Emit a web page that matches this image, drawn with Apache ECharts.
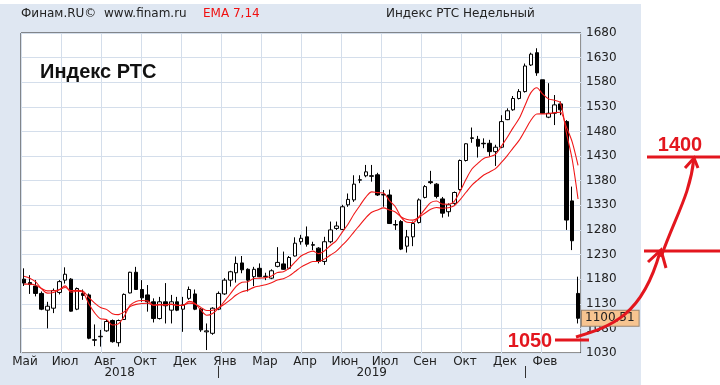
<!DOCTYPE html>
<html><head><meta charset="utf-8">
<script src="https://cdn.jsdelivr.net/npm/echarts@6/dist/echarts.min.js"></script>
<style>html,body{margin:0;padding:0;background:#fff}#c{width:720px;height:385px}</style>
</head><body><div id="c"></div>
<script>
const weeks = [
'2018-05-21','2018-05-28','2018-06-04','2018-06-11','2018-06-18','2018-06-25','2018-07-02','2018-07-09','2018-07-16','2018-07-23',
'2018-07-30','2018-08-06','2018-08-13','2018-08-20','2018-08-27','2018-09-03','2018-09-10','2018-09-17','2018-09-24','2018-10-01',
'2018-10-08','2018-10-15','2018-10-22','2018-10-29','2018-11-05','2018-11-12','2018-11-19','2018-11-26','2018-12-03','2018-12-10',
'2018-12-17','2018-12-24','2018-12-31',
'2019-01-07','2019-01-14','2019-01-21','2019-01-28','2019-02-04','2019-02-11','2019-02-18','2019-02-25','2019-03-04','2019-03-11',
'2019-03-18','2019-03-25','2019-04-01','2019-04-08','2019-04-15','2019-04-22','2019-04-29','2019-05-06','2019-05-13','2019-05-20',
'2019-05-27','2019-06-03','2019-06-10','2019-06-17','2019-06-24','2019-07-01','2019-07-08','2019-07-15','2019-07-22','2019-07-29',
'2019-08-05','2019-08-12','2019-08-19','2019-08-26','2019-09-02','2019-09-09','2019-09-16','2019-09-23','2019-09-30','2019-10-07',
'2019-10-14','2019-10-21','2019-10-28','2019-11-04','2019-11-11','2019-11-18','2019-11-25','2019-12-02','2019-12-09','2019-12-16',
'2019-12-23','2019-12-30',
'2020-01-06','2020-01-13','2020-01-20','2020-01-27','2020-02-03','2020-02-10','2020-02-17','2020-02-24','2020-03-02','2020-03-09'
];
const opens = [
1180,1173,1166,1151,1117,1121,1153,1178,1180,1119,1151,1148,1057,1063,1075,1096,1051,1098,1152,1194,
1159,1148,1134,1100,1134,1117,1134,1119,1141,1150,1119,1073,1070,1119,1150,1178,1193,1213,1200,1185,
1202,1185,1182,1206,1211,1202,1227,1256,1266,1250,1243,1216,1256,1283,1281,1331,1341,1381,1390,1390,
1392,1351,1351,1291,1297,1247,1266,1295,1346,1378,1373,1343,1317,1334,1362,1421,1467,1464,1456,1456,
1439,1448,1504,1524,1547,1561,1615,1640,1585,1509,1517,1536,1500,1339,1151
];
const closes = [
1172,1169,1151,1119,1125,1157,1175,1190,1115,1161,1147,1060,1056,1064,1094,1053,1096,1149,1194,1159,
1142,1134,1100,1134,1126,1134,1117,1128,1159,1119,1077,1075,1121,1151,1178,1195,1212,1199,1178,1200,
1185,1186,1197,1214,1200,1224,1253,1263,1251,1249,1216,1256,1280,1288,1327,1342,1373,1382,1398,1389,
1351,1352,1293,1290,1241,1266,1293,1341,1368,1376,1348,1314,1331,1356,1421,1455,1466,1450,1455,1439,
1448,1500,1522,1547,1561,1613,1637,1599,1517,1517,1534,1524,1300,1258,1100.51
];
const lows = [
1166,1150,1145,1117,1080,1111,1149,1171,1114,1117,1138,1058,1044,1043,1073,1051,1043,1097,1151,1158,
1134,1114,1092,1098,1090,1090,1115,1073,1138,1117,1073,1036,1067,1117,1148,1165,1173,1192,1155,1166,
1184,1178,1180,1204,1199,1200,1226,1250,1246,1239,1212,1209,1253,1280,1280,1327,1337,1375,1387,1378,
1349,1327,1292,1280,1239,1234,1247,1293,1344,1373,1344,1305,1307,1331,1360,1419,1457,1427,1446,1429,
1410,1446,1503,1522,1545,1559,1613,1593,1516,1507,1493,1513,1280,1239,1090
];
const highs = [
1202,1188,1178,1155,1134,1161,1178,1204,1182,1163,1159,1151,1088,1077,1097,1098,1098,1151,1195,1205,
1178,1168,1141,1144,1172,1148,1144,1144,1165,1159,1121,1090,1123,1155,1182,1197,1226,1227,1202,1205,
1212,1193,1200,1245,1236,1227,1265,1270,1287,1256,1245,1266,1297,1297,1331,1354,1391,1391,1412,1412,
1396,1361,1362,1300,1300,1280,1297,1344,1371,1400,1375,1347,1334,1358,1423,1456,1488,1471,1466,1463,
1453,1513,1527,1552,1566,1618,1640,1649,1585,1578,1554,1541,1503,1368,1185
];
const ema7 = [
1186,1182,1174.3,1160.4,1151.6,1152.9,1158.4,1166.3,1153.5,1155.4,
1153.3,1130,1111.5,1099.6,1098.2,1086.9,1089.2,1104.1,1126.6,1134.7,
1136.5,1135.9,1126.9,1128.7,1128,1129.5,1126.4,1126.8,1134.9,1130.9,
1117.4,1106.8,1110.4,1120.5,1134.9,1149.9,1165.4,1173.8,1174.9,1181.2,
1182.1,1183.1,1186.6,1193.4,1195.1,1202.3,1215,1227,1233,1237,
1231.8,1237.8,1248.4,1258.3,1275.5,1292.1,1312.3,1329.7,1346.8,1357.3,
1355.7,1354.8,1339.4,1327,1305.5,1295.6,1295,1306.5,1321.9,1335.4,
1338.6,1332.4,1332.1,1338.1,1358.8,1382.9,1403.7,1415.3,1425.2,1428.7,
1433.5,1450.1,1468.1,1487.8,1506.1,1532.8,1558.9,1568.9,1555.9,1546.2,
1543.2,1538.4,1478.8,1423.6,1342.8
];
const ema14 = [
1170,1170,1167.5,1161,1156.2,1156.3,1158.8,1163,1156.6,1157.2,
1155.8,1143,1131.4,1122.4,1118.6,1109.9,1108,1113.5,1124.2,1128.8,
1130.6,1131,1126.9,1127.8,1127.6,1128.5,1126.9,1127.1,1131.3,1129.7,
1122.7,1116.3,1116.9,1121.5,1129,1137.8,1147.7,1154.5,1157.6,1163.3,
1166.2,1168.8,1172.6,1178.1,1181,1186.7,1195.5,1204.5,1210.7,1215.8,
1215.8,1221.2,1229,1236.9,1248.9,1261.3,1276.2,1290.3,1304.7,1315.9,
1320.6,1324.8,1320.6,1316.5,1306.4,1301,1299.9,1305.4,1313.8,1322.1,
1325.6,1324.1,1325,1329.1,1341.4,1356.5,1371.1,1381.6,1391.4,1397.7,
1404.4,1417.1,1431.1,1446.6,1461.8,1482,1502.7,1515.5,1515.7,1515.9,
1518.3,1519.1,1489.9,1459,1411.1
];
const monthLabels = ['Май','Июл','Авг','Окт','Дек','Янв','Мар','Апр','Июн','Июл','Сен','Окт','Дек','Фев'];
const yTickLabels = [1030,1080,1130,1180,1230,1280,1330,1380,1430,1480,1530,1580,1630,1680];
const lastValue = 1100.51;
const lastValueLabel = '1100,51';
const noteHigh = '1400';
const noteLow = '1050';

const yMin = yTickLabels[0], yMax = yTickLabels[yTickLabels.length - 1];
const candles = opens.map((o, i) => [o, closes[i], lows[i], highs[i]]);
const yearStarts = [];
weeks.forEach((w, i) => { const y = w.slice(0, 4); if (i === 0 || weeks[i - 1].slice(0, 4) !== y) yearStarts.push({ year: y, idx: i }); });
const sepTicks = yearStarts.slice(1).map(s => s.idx + 0.5);
const yearLabelPos = [];
const yearLabelText = {};
yearStarts.forEach((s, k) => {
  const a = k === 0 ? 0 : s.idx + 0.5;
  if (k + 1 < yearStarts.length) {
    const b = yearStarts[k + 1].idx + 0.5;
    const m = (a + b) / 2; yearLabelPos.push(m); yearLabelText[m] = s.year;
  }
});

const FONT = 'DejaVu Sans';
const red = '#e3161e';
const chart = echarts.init(document.getElementById('c'));
chart.setOption({
  animation: false,
  backgroundColor: '#dfe7f2',
  title: [
    { text: 'Финам.RU©', left: 21, top: 8, padding: 0, textStyle: { fontSize: 12, fontWeight: 'normal', color: '#222', fontFamily: FONT } },
    { text: 'www.finam.ru', left: 104, top: 8, padding: 0, textStyle: { fontSize: 12, fontWeight: 'normal', color: '#222', fontFamily: FONT } },
    { text: 'EMA 7,14', left: 203, top: 8, padding: 0, textStyle: { fontSize: 12, fontWeight: 'normal', color: '#f01010', fontFamily: FONT } },
    { text: 'Индекс РТС Недельный', left: 386, top: 8, padding: 0, textStyle: { fontSize: 12, fontWeight: 'normal', color: '#222', fontFamily: FONT } },
    { text: 'Индекс РТС', left: 40, top: 62, padding: 0, textStyle: { fontSize: 20, fontWeight: 'bold', color: '#111', fontFamily: 'Liberation Sans' } }
  ],
  grid: { left: 21, top: 33, width: 560, height: 320, show: true, backgroundColor: '#ffffff', borderColor: '#222', borderWidth: 1 },
  xAxis: [
    { type: 'category', data: weeks, boundaryGap: true, axisLine: { show: false }, axisTick: { show: false }, axisLabel: { show: false }, splitLine: { show: false } },
    { type: 'value', min: 0, max: monthLabels.length, interval: 1, position: 'bottom',
      axisLine: { show: false }, axisTick: { show: false },
      splitLine: { show: true, lineStyle: { color: '#d4deeb', width: 1 } },
      axisLabel: { margin: 3, color: '#222', fontSize: 12, fontFamily: FONT, padding: [0, 0, 0, 8], showMaxLabel: false,
        formatter: v => monthLabels[Math.round(v)] || '' } },
    { type: 'value', min: 0, max: weeks.length, position: 'bottom', offset: 13,
      axisLine: { show: false }, splitLine: { show: false },
      axisTick: { show: true, customValues: sepTicks, length: 12, lineStyle: { color: '#333', width: 1 } },
      axisLabel: { customValues: yearLabelPos, margin: 1, color: '#222', fontSize: 12, fontFamily: FONT,
        formatter: v => yearLabelText[v] || '' } }
  ],
  yAxis: [
    { type: 'value', position: 'right', min: 0, max: yMax - yMin, interval: 50,
      axisLine: { show: false }, axisTick: { show: false },
      splitLine: { show: true, lineStyle: { color: '#d4deeb', width: 1 } },
      axisLabel: { margin: 5, color: '#222', fontSize: 12, fontFamily: FONT,
        formatter: v => String(yTickLabels[Math.round(v / 50)]) } },
    { type: 'value', min: yMin, max: yMax, show: false, splitLine: { show: false } }
  ],
  graphic: [
    { type: 'rect', silent: true, shape: { x: 0, y: 0, width: 720, height: 4 }, style: { fill: '#fff' } },
    { type: 'rect', silent: true, shape: { x: 641, y: 0, width: 79, height: 385 }, style: { fill: '#fff' } },
    { type: 'line', silent: true, z: 100, shape: { x1: 647, y1: 157, x2: 720, y2: 157 }, style: { stroke: red, lineWidth: 3 } },
    { type: 'line', silent: true, z: 100, shape: { x1: 644, y1: 251, x2: 720, y2: 251 }, style: { stroke: red, lineWidth: 3 } },
    { type: 'line', silent: true, z: 100, shape: { x1: 555, y1: 340, x2: 589, y2: 340 }, style: { stroke: red, lineWidth: 3 } },
    { type: 'bezierCurve', silent: true, z: 100, shape: { x1: 576, y1: 337, cpx1: 612, cpy1: 326, cpx2: 642, cpy2: 316, x2: 660, y2: 252 }, style: { stroke: red, lineWidth: 3, fill: null } },
    { type: 'polyline', silent: true, z: 100, shape: { points: [[648, 262], [661, 250], [666, 268]] }, style: { stroke: red, lineWidth: 3, fill: null } },
    { type: 'bezierCurve', silent: true, z: 100, shape: { x1: 661, y1: 257, cpx1: 676, cpy1: 215, cpx2: 690, cpy2: 195, x2: 694, y2: 158 }, style: { stroke: red, lineWidth: 3, fill: null } },
    { type: 'polyline', silent: true, z: 100, shape: { points: [[685, 168], [694, 158], [698, 168]] }, style: { stroke: red, lineWidth: 3, fill: null } },
    { type: 'text', silent: true, z: 100, x: 680, y: 145, style: { text: noteHigh, fill: red, font: 'bold 20px "Liberation Sans"', align: 'center', verticalAlign: 'middle' } },
    { type: 'text', silent: true, z: 100, x: 530, y: 341, style: { text: noteLow, fill: red, font: 'bold 20px "Liberation Sans"', align: 'center', verticalAlign: 'middle' } }
  ],
  series: [
    { type: 'candlestick', xAxisIndex: 0, yAxisIndex: 1, data: candles, barWidth: 4, z: 2,
      itemStyle: { color: '#ffffff', color0: '#000000', borderColor: '#000000', borderColor0: '#000000', borderWidth: 1 } },
    { type: 'line', xAxisIndex: 0, yAxisIndex: 1, data: ema7, symbol: 'none', smooth: 0.3, lineStyle: { color: '#f01818', width: 1.1 }, z: 3 },
    { type: 'line', xAxisIndex: 0, yAxisIndex: 1, data: ema14, symbol: 'none', smooth: 0.3, lineStyle: { color: '#f01818', width: 1.1 }, z: 3,
      markLine: { silent: true, symbol: ['none', 'none'], data: [{ yAxis: lastValue }],
        lineStyle: { color: 'rgba(0,0,0,0)', width: 1, type: 'solid' },
        label: { show: true, position: 'end', distance: 1, formatter: lastValueLabel, backgroundColor: '#f7c490', borderColor: '#9a8570', borderWidth: 1,
          padding: [2, 4, 1, 3], color: '#222', fontSize: 12, fontFamily: FONT } } }
  ]
});
</script></body></html>
